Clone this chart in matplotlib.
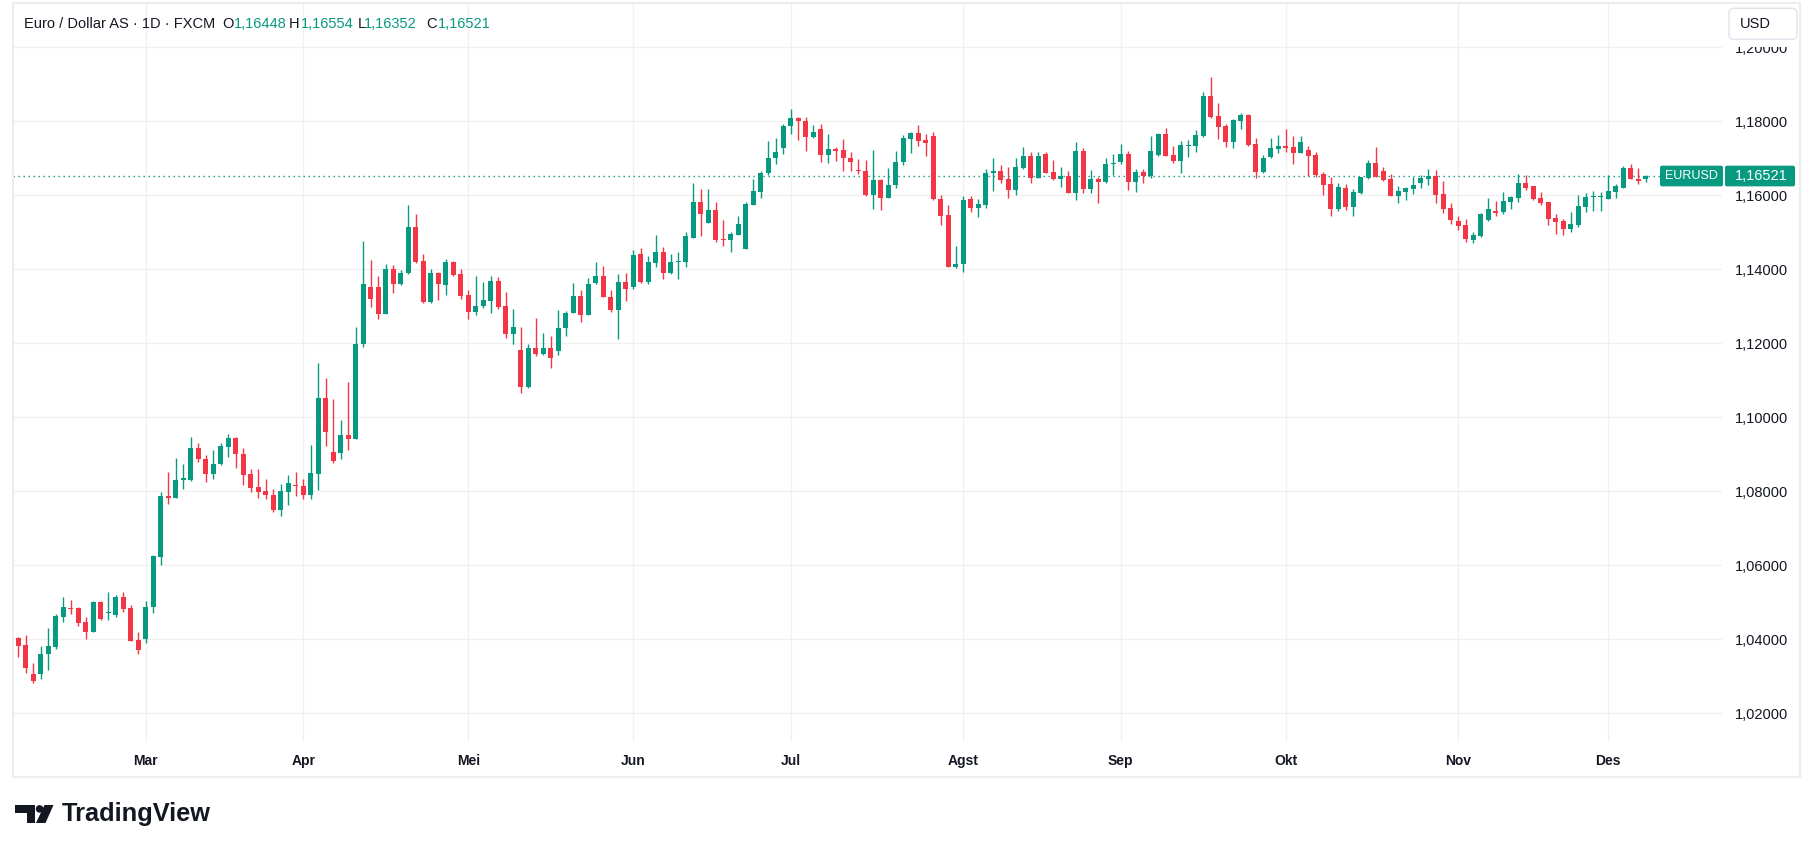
import matplotlib
matplotlib.use("Agg")
import matplotlib.pyplot as plt
import matplotlib.patches as mpatches
from matplotlib.transforms import IdentityTransform
import pandas as pd

# ---------------- data (EUR/USD daily, FXCM) ----------------
dates = pd.bdate_range("2025-02-06", "2025-12-08")

opens = [
    # Feb
    1.0404, 1.0385, 1.0306, 1.0305, 1.0359, 1.0379, 1.0461, 1.0485, 1.0485, 1.0447,
    1.0421, 1.0501, 1.0470, 1.0467, 1.0514, 1.0485, 1.0398,
    # Mar
    1.0402, 1.0486, 1.0623, 1.0788, 1.0783, 1.0830, 1.0831, 1.0918, 1.0888, 1.0848,
    1.0874, 1.0920, 1.0945, 1.0901, 1.0847, 1.0812, 1.0801, 1.0790, 1.0750, 1.0799,
    1.0817,
    # Apr
    1.0815, 1.0791, 1.0848, 1.1053, 1.0905, 1.0904, 1.0951, 1.0942, 1.1198, 1.1352,
    1.1352, 1.1278, 1.1401, 1.1360, 1.1390, 1.1515, 1.1422, 1.1311, 1.1390, 1.1357,
    1.1420, 1.1387,
    # May
    1.1330, 1.1284, 1.1300, 1.1314, 1.1368, 1.1300, 1.1225, 1.1183, 1.1081, 1.1186,
    1.1172, 1.1186, 1.1178, 1.1241, 1.1281, 1.1329, 1.1276, 1.1364, 1.1381, 1.1326,
    1.1289, 1.1367,
    # Jun
    1.1351, 1.1440, 1.1367, 1.1416, 1.1446, 1.1391, 1.1419, 1.1419, 1.1485, 1.1581,
    1.1524, 1.1559, 1.1481, 1.1479, 1.1494, 1.1456, 1.1575, 1.1610, 1.1659, 1.1700,
    1.1727,
    # Jul
    1.1787, 1.1810, 1.1802, 1.1757, 1.1780, 1.1708, 1.1726, 1.1723, 1.1702, 1.1667,
    1.1666, 1.1602, 1.1642, 1.1594, 1.1629, 1.1689, 1.1753, 1.1769, 1.1750, 1.1759,
    1.1591, 1.1547, 1.1405,
    # Aug
    1.1413, 1.1590, 1.1567, 1.1574, 1.1659, 1.1666, 1.1644, 1.1615, 1.1674, 1.1706,
    1.1648, 1.1712, 1.1663, 1.1645, 1.1652, 1.1605, 1.1720, 1.1618, 1.1644, 1.1637,
    1.1685,
    # Sep
    1.1691, 1.1712, 1.1637, 1.1663, 1.1651, 1.1709, 1.1766, 1.1709, 1.1694, 1.1733,
    1.1733, 1.1760, 1.1869, 1.1814, 1.1787, 1.1745, 1.1802, 1.1817, 1.1739, 1.1664,
    1.1704, 1.1725,
    # Oct
    1.1733, 1.1731, 1.1714, 1.1723, 1.1709, 1.1658, 1.1631, 1.1563, 1.1620, 1.1569,
    1.1606, 1.1647, 1.1687, 1.1666, 1.1644, 1.1598, 1.1609, 1.1617, 1.1633, 1.1644,
    1.1652, 1.1604, 1.1566,
    # Nov
    1.1531, 1.1519, 1.1480, 1.1489, 1.1532, 1.1557, 1.1555, 1.1582, 1.1593, 1.1632,
    1.1624, 1.1592, 1.1582, 1.1538, 1.1531, 1.1508, 1.1519, 1.1569, 1.1595, 1.1596,
    # Dec
    1.1589, 1.1609, 1.1621, 1.1674, 1.1645, 1.16448,
]

highs = [
    1.0406, 1.0412, 1.0336, 1.0382, 1.0431, 1.0469, 1.0514, 1.0506, 1.0487, 1.0460,
    1.0504, 1.0504, 1.0528, 1.0520, 1.0528, 1.0493, 1.0421,
    1.0504, 1.0628, 1.0797, 1.0853, 1.0889, 1.0874, 1.0947, 1.0931, 1.0898, 1.0912,
    1.0931, 1.0955, 1.0947, 1.0918, 1.0861, 1.0859, 1.0832, 1.0805, 1.0821, 1.0845,
    1.0851,
    1.0832, 1.0925, 1.1146, 1.1107, 1.1050, 1.0993, 1.1096, 1.1243, 1.1477, 1.1425,
    1.1382, 1.1414, 1.1411, 1.1398, 1.1575, 1.1550, 1.1441, 1.1401, 1.1392, 1.1428,
    1.1422, 1.1401,
    1.1344, 1.1382, 1.1365, 1.1382, 1.1379, 1.1338, 1.1294, 1.1243, 1.1198, 1.1268,
    1.1229, 1.1221, 1.1289, 1.1286, 1.1364, 1.1345, 1.1376, 1.1419, 1.1408, 1.1345,
    1.1386, 1.1391,
    1.1451, 1.1457, 1.1435, 1.1494, 1.1459, 1.1440, 1.1448, 1.1500, 1.1633, 1.1616,
    1.1616, 1.1581, 1.1533, 1.1502, 1.1545, 1.1582, 1.1645, 1.1667, 1.1748, 1.1756,
    1.1792,
    1.1832, 1.1812, 1.1812, 1.1791, 1.1794, 1.1767, 1.1731, 1.1753, 1.1716, 1.1699,
    1.1696, 1.1723, 1.1645, 1.1675, 1.1719, 1.1764, 1.1772, 1.1791, 1.1765, 1.1772,
    1.1601, 1.1574, 1.1464,
    1.1599, 1.1599, 1.1590, 1.1672, 1.1701, 1.1683, 1.1677, 1.1700, 1.1731, 1.1717,
    1.1717, 1.1717, 1.1696, 1.1677, 1.1666, 1.1744, 1.1728, 1.1669, 1.1650, 1.1700,
    1.1712,
    1.1739, 1.1720, 1.1671, 1.1671, 1.1760, 1.1769, 1.1782, 1.1733, 1.1747, 1.1750,
    1.1777, 1.1879, 1.1921, 1.1850, 1.1793, 1.1806, 1.1823, 1.1820, 1.1755, 1.1709,
    1.1755, 1.1763,
    1.1779, 1.1760, 1.1760, 1.1733, 1.1717, 1.1663, 1.1650, 1.1633, 1.1631, 1.1617,
    1.1650, 1.1696, 1.1731, 1.1677, 1.1658, 1.1625, 1.1623, 1.1650, 1.1655, 1.1671,
    1.1669, 1.1639, 1.1579,
    1.1544, 1.1536, 1.1501, 1.1553, 1.1592, 1.1584, 1.1608, 1.1597, 1.1657, 1.1654,
    1.1625, 1.1608, 1.1582, 1.1549, 1.1535, 1.1554, 1.1602, 1.1605, 1.1612, 1.1608,
    1.1654, 1.1630, 1.1679, 1.1684, 1.1674, 1.16554,
]

lows = [
    1.0353, 1.0308, 1.0283, 1.0294, 1.0318, 1.0375, 1.0448, 1.0469, 1.0437, 1.0402,
    1.0421, 1.0451, 1.0453, 1.0459, 1.0475, 1.0396, 1.0361,
    1.0391, 1.0472, 1.0601, 1.0767, 1.0781, 1.0805, 1.0829, 1.0878, 1.0824, 1.0832,
    1.0870, 1.0894, 1.0862, 1.0816, 1.0797, 1.0783, 1.0778, 1.0745, 1.0734, 1.0764,
    1.0786,
    1.0780, 1.0780, 1.0803, 1.0923, 1.0877, 1.0887, 1.0911, 1.0940, 1.1189, 1.1297,
    1.1266, 1.1278, 1.1335, 1.1357, 1.1388, 1.1418, 1.1308, 1.1309, 1.1316, 1.1330,
    1.1382, 1.1319,
    1.1267, 1.1276, 1.1295, 1.1281, 1.1292, 1.1214, 1.1198, 1.1067, 1.1078, 1.1165,
    1.1169, 1.1132, 1.1169, 1.1219, 1.1281, 1.1257, 1.1276, 1.1359, 1.1325, 1.1284,
    1.1211, 1.1314,
    1.1346, 1.1364, 1.1359, 1.1405, 1.1373, 1.1386, 1.1373, 1.1405, 1.1484, 1.1489,
    1.1524, 1.1475, 1.1463, 1.1448, 1.1494, 1.1456, 1.1575, 1.1594, 1.1656, 1.1684,
    1.1711,
    1.1765, 1.1750, 1.1719, 1.1754, 1.1689, 1.1686, 1.1692, 1.1665, 1.1667, 1.1657,
    1.1597, 1.1564, 1.1559, 1.1594, 1.1619, 1.1681, 1.1713, 1.1732, 1.1705, 1.1587,
    1.1521, 1.1405, 1.1403,
    1.1394, 1.1554, 1.1540, 1.1566, 1.1612, 1.1632, 1.1594, 1.1602, 1.1671, 1.1634,
    1.1648, 1.1659, 1.1642, 1.1623, 1.1605, 1.1586, 1.1605, 1.1605, 1.1578, 1.1632,
    1.1655,
    1.1685, 1.1615, 1.1610, 1.1632, 1.1648, 1.1706, 1.1706, 1.1686, 1.1661, 1.1704,
    1.1717, 1.1758, 1.1809, 1.1752, 1.1731, 1.1729, 1.1780, 1.1732, 1.1648, 1.1659,
    1.1701, 1.1714,
    1.1717, 1.1685, 1.1714, 1.1652, 1.1650, 1.1601, 1.1544, 1.1558, 1.1560, 1.1544,
    1.1604, 1.1644, 1.1650, 1.1639, 1.1598, 1.1579, 1.1587, 1.1604, 1.1620, 1.1628,
    1.1579, 1.1552, 1.1523,
    1.1506, 1.1474, 1.1472, 1.1487, 1.1531, 1.1544, 1.1550, 1.1564, 1.1582, 1.1614,
    1.1588, 1.1573, 1.1519, 1.1496, 1.1492, 1.1500, 1.1514, 1.1555, 1.1558, 1.1558,
    1.1589, 1.1593, 1.1621, 1.1643, 1.1630, 1.16352,
]

closes = [
    1.0383, 1.0323, 1.0286, 1.0360, 1.0382, 1.0463, 1.0487, 1.0482, 1.0445, 1.0421,
    1.0501, 1.0455, 1.0472, 1.0514, 1.0483, 1.0396, 1.0372,
    1.0487, 1.0625, 1.0788, 1.0783, 1.0831, 1.0835, 1.0918, 1.0886, 1.0848, 1.0874,
    1.0923, 1.0945, 1.0900, 1.0845, 1.0810, 1.0799, 1.0789, 1.0750, 1.0801, 1.0823,
    1.0813,
    1.0791, 1.0850, 1.1053, 1.0961, 1.0883, 1.0951, 1.0942, 1.1199, 1.1360, 1.1320,
    1.1278, 1.1401, 1.1360, 1.1390, 1.1515, 1.1420, 1.1311, 1.1390, 1.1360, 1.1420,
    1.1384, 1.1327,
    1.1284, 1.1300, 1.1316, 1.1368, 1.1297, 1.1225, 1.1245, 1.1081, 1.1186, 1.1172,
    1.1186, 1.1159, 1.1242, 1.1283, 1.1329, 1.1276, 1.1359, 1.1381, 1.1325, 1.1289,
    1.1367, 1.1346,
    1.1440, 1.1367, 1.1419, 1.1446, 1.1391, 1.1419, 1.1422, 1.1489, 1.1581, 1.1549,
    1.1559, 1.1478, 1.1479, 1.1495, 1.1523, 1.1577, 1.1612, 1.1661, 1.1702, 1.1718,
    1.1788,
    1.1810, 1.1800, 1.1757, 1.1772, 1.1708, 1.1726, 1.1721, 1.1700, 1.1689, 1.1665,
    1.1602, 1.1642, 1.1594, 1.1629, 1.1691, 1.1756, 1.1769, 1.1748, 1.1740, 1.1589,
    1.1545, 1.1405, 1.1414,
    1.1588, 1.1567, 1.1577, 1.1660, 1.1666, 1.1640, 1.1615, 1.1677, 1.1706, 1.1648,
    1.1706, 1.1661, 1.1645, 1.1652, 1.1605, 1.1720, 1.1618, 1.1644, 1.1637, 1.1685,
    1.1687,
    1.1712, 1.1637, 1.1663, 1.1651, 1.1720, 1.1766, 1.1706, 1.1694, 1.1736, 1.1736,
    1.1763, 1.1869, 1.1812, 1.1785, 1.1745, 1.1804, 1.1817, 1.1737, 1.1664, 1.1701,
    1.1728, 1.1733,
    1.1728, 1.1714, 1.1744, 1.1706, 1.1655, 1.1628, 1.1563, 1.1623, 1.1569, 1.1609,
    1.1650, 1.1687, 1.1650, 1.1641, 1.1598, 1.1612, 1.1620, 1.1628, 1.1647, 1.1653,
    1.1601, 1.1563, 1.1534,
    1.1517, 1.1482, 1.1492, 1.1549, 1.1562, 1.1553, 1.1584, 1.1596, 1.1632, 1.1620,
    1.1589, 1.1579, 1.1536, 1.1528, 1.1508, 1.1523, 1.1570, 1.1595, 1.1597, 1.1597,
    1.1612, 1.1625, 1.1674, 1.1643, 1.1638, 1.16521,
]

month_labels = ["Mar", "Apr", "Mei", "Jun", "Jul", "Agst", "Sep", "Okt", "Nov", "Des"]
price_ticks = [1.02, 1.04, 1.06, 1.08, 1.10, 1.12, 1.14, 1.16, 1.18, 1.20]

title_text = "Euro / Dollar AS \u00b7 1D \u00b7 FXCM"
symbol = "EURUSD"
currency = "USD"

# ---------------- style ----------------
UP = "#089981"
DOWN = "#F23645"
TXT = "#131722"
GRID = "#F0F0F0"
FONT = "Liberation Sans"

W, H = 1813, 850
fig = plt.figure(figsize=(W / 100, H / 100), dpi=100)
fig.patch.set_facecolor("white")

# pane in pixel coordinates (from top-left)
PL, PR, PT, PB = 13, 1722, 3, 742
ax = fig.add_axes([PL / W, (H - PB) / H, (PR - PL) / W, (PB - PT) / H])
ax.set_facecolor("white")

PX_PER_BAR = 7.5
x0 = -(18.3 - PL) / PX_PER_BAR
ax.set_xlim(x0, x0 + (PR - PL) / PX_PER_BAR)
PX_PER_UNIT = 3700.0
y_116 = 195.3
ax.set_ylim(1.16 - (PB - y_116) / PX_PER_UNIT, 1.16 + (y_116 - PT) / PX_PER_UNIT)

n = len(closes)
xs = list(range(n))
cols = [UP if c >= o else DOWN for o, c in zip(opens, closes)]
bottoms = [min(o, c) for o, c in zip(opens, closes)]
heights = [max(abs(c - o), 0.00028) for o, c in zip(opens, closes)]

ax.vlines(xs, lows, highs, colors=cols, linewidth=1.0, zorder=3)
ax.bar(xs, heights, bottom=bottoms, width=0.68, color=cols, linewidth=0, zorder=4)

# month ticks
month_idx = []
prev = None
for i, d in enumerate(dates[:n]):
    if prev is not None and d.month != prev:
        month_idx.append(i)
    prev = d.month
ax.set_xticks(month_idx)
ax.set_xticklabels(month_labels[:len(month_idx)], fontfamily=FONT, fontsize=10,
                   fontweight="bold", color=TXT)
ax.tick_params(axis="x", length=0, pad=8.5)

ax.yaxis.tick_right()
ax.set_yticks(price_ticks)
ax.set_yticklabels([f"{v:.5f}".replace(".", ",") for v in price_ticks],
                   fontfamily=FONT, fontsize=10.5, color=TXT)
ax.tick_params(axis="y", length=0, pad=9.5)

ax.grid(True, color=GRID, linewidth=1.0, zorder=0)
ax.set_axisbelow(True)
for s in ax.spines.values():
    s.set_visible(False)

# last price dotted line
last = closes[-1]
ax.axhline(last, xmin=0, xmax=(1660 - PL) / (PR - PL), color=UP,
           linewidth=1.0, linestyle=(0, (1, 2.6)), zorder=2)

ID = IdentityTransform()


def py(ytop):
    return H - ytop


# outer frame
fig.patches.append(mpatches.Rectangle((PL, py(777.3)), 1800 - PL, 777.3 - 3,
                                      transform=ID, fill=False, edgecolor="#EDEDED",
                                      linewidth=1.6, zorder=1))

# mask above price axis for USD button
fig.patches.append(mpatches.Rectangle((PR + 1, py(46.5)), 1799 - PR - 1, 46.5 - 4,
                                      transform=ID, facecolor="white", edgecolor="none",
                                      zorder=2))
fig.patches.append(mpatches.FancyBboxPatch((1729, py(39.3)), 68, 31,
                                           boxstyle="round,pad=0,rounding_size=5",
                                           transform=ID, facecolor="white",
                                           edgecolor="#E0E3EB", linewidth=1.0, zorder=3))
fig.text(1740, py(24), currency, transform=ID, fontfamily=FONT, fontsize=10.5,
         color=TXT, ha="left", va="center", zorder=4)

# last price tags
ypix = ax.transData.transform((0, last))[1]
tag_h = 20.7
fig.patches.append(mpatches.FancyBboxPatch((1660, ypix - tag_h / 2), 63, tag_h,
                                           boxstyle="round,pad=0,rounding_size=2",
                                           transform=ID, facecolor=UP, edgecolor="none",
                                           zorder=3))
fig.patches.append(mpatches.FancyBboxPatch((1725, ypix - tag_h / 2), 70, tag_h,
                                           boxstyle="round,pad=0,rounding_size=2",
                                           transform=ID, facecolor=UP, edgecolor="none",
                                           zorder=3))
fig.text(1691.5, ypix, symbol, transform=ID, fontfamily=FONT, fontsize=9,
         color="white", ha="center", va="center", zorder=4)
fig.text(1761, ypix, f"{last:.5f}".replace(".", ","), transform=ID, fontfamily=FONT,
         fontsize=10.5, color="white", ha="center", va="center", zorder=4)

# header legend
hy = py(24.5)
fig.text(23.7, hy, title_text, transform=ID, fontfamily=FONT, fontsize=10.5,
         color=TXT, ha="left", va="center")
parts = [("O", 222, opens[-1]), ("H", 289, highs[-1]), ("L", 357.8, lows[-1]),
         ("C", 426.7, closes[-1])]
for lab, xp, val in parts:
    fig.text(xp, hy, lab, transform=ID, fontfamily=FONT, fontsize=10.5,
             color=TXT, ha="left", va="center")
    fig.text(xp + (11.5 if lab != "L" else 6), hy, f"{val:.5f}".replace(".", ","),
             transform=ID, fontfamily=FONT, fontsize=10.5, color=UP,
             ha="left", va="center")

# TradingView logo
LOGO = "#131722"
fig.patches.append(mpatches.Rectangle((15, py(812.7)), 20, 7.7, transform=ID,
                                      facecolor=LOGO, edgecolor="none"))
fig.patches.append(mpatches.Rectangle((26.7, py(823)), 8.3, 18, transform=ID,
                                      facecolor=LOGO, edgecolor="none"))
fig.patches.append(mpatches.Circle((39.6, py(808.9)), 3.8, transform=ID,
                                   facecolor=LOGO, edgecolor="none"))
fig.patches.append(mpatches.Polygon([(44.5, py(805)), (53.5, py(805)),
                                     (45.5, py(823)), (36, py(823))],
                                    closed=True, transform=ID, facecolor=LOGO,
                                    edgecolor="none"))
fig.text(61.5, py(814), "TradingView", transform=ID, fontfamily=FONT, fontsize=18.3,
         fontweight="bold", color=LOGO, ha="left", va="center")

fig.savefig("out.png", dpi=100, facecolor="white")
